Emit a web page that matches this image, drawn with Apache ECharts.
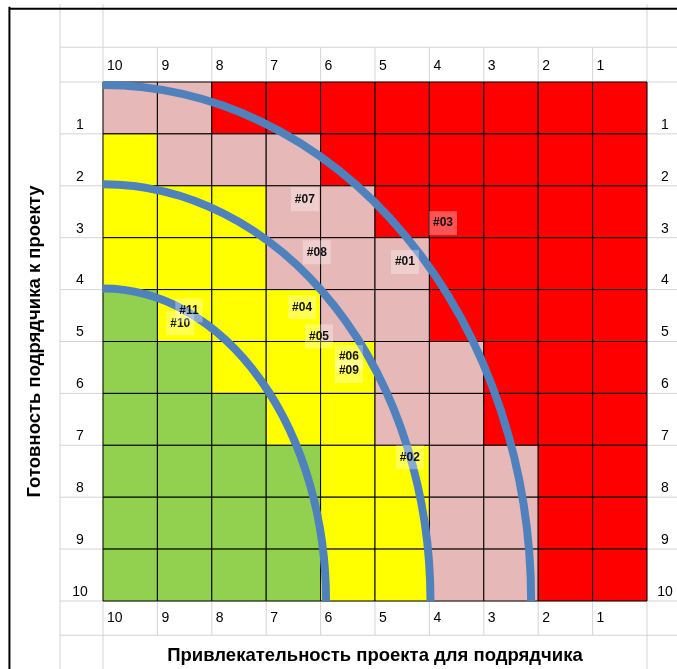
<!DOCTYPE html>
<html><head><meta charset="utf-8">
<script src="https://cdn.jsdelivr.net/npm/echarts@6/dist/echarts.min.js"></script>
<style>html,body{margin:0;padding:0;background:#fff}#c{width:677px;height:669px}</style>
</head><body><div id="c"></div>
<script>
// Column labels (left to right) and row labels (top to bottom)
const xTicks = [10, 9, 8, 7, 6, 5, 4, 3, 2, 1];
const yTicks = [1, 2, 3, 4, 5, 6, 7, 8, 9, 10];
// Zone of each cell, row by row (G green, Y yellow, P pink, R red), columns 10..1
const zoneRow1  = ['P','P','R','R','R','R','R','R','R','R'];
const zoneRow2  = ['Y','P','P','P','R','R','R','R','R','R'];
const zoneRow3  = ['Y','Y','Y','P','P','R','R','R','R','R'];
const zoneRow4  = ['Y','Y','Y','P','P','P','R','R','R','R'];
const zoneRow5  = ['G','Y','Y','Y','P','P','R','R','R','R'];
const zoneRow6  = ['G','G','Y','Y','Y','P','P','R','R','R'];
const zoneRow7  = ['G','G','G','Y','Y','P','P','R','R','R'];
const zoneRow8  = ['G','G','G','G','Y','Y','P','P','R','R'];
const zoneRow9  = ['G','G','G','G','Y','Y','P','P','R','R'];
const zoneRow10 = ['G','G','G','G','Y','Y','P','P','R','R'];
const zoneRows = [zoneRow1, zoneRow2, zoneRow3, zoneRow4, zoneRow5, zoneRow6, zoneRow7, zoneRow8, zoneRow9, zoneRow10];
// Projects: label, attractiveness (x), readiness (y)
const projectNames = ['#01','#02','#03','#04','#05','#06','#07','#08','#09','#10','#11'];
const projectX     = [4.45, 4.36, 3.75, 6.34, 6.03, 5.48, 6.29, 6.07, 5.48, 8.58, 8.42];
const projectY     = [3.47, 7.23, 2.72, 4.34, 4.90, 5.30, 2.26, 3.28, 5.57, 4.65, 4.40];
// Boundary arcs (radii in axis units, centred on corner 10/10)
const arcRx = [7.87, 6.02, 4.10];
const arcRy = [9.94, 8.03, 6.02];

const zoneColors = { G: '#92D050', Y: '#FFFF00', P: '#E6B8B7', R: '#FF0000' };
const FONT = '"Liberation Sans", Arial, sans-serif';

const cellData = [];
zoneRows.forEach((row, r) => row.forEach((z, c) => cellData.push([xTicks[c], yTicks[r], z])));
const pointData = projectNames.map((n, i) => [projectX[i], projectY[i], n]);
const arcData = arcRx.map((rx, i) => [rx, arcRy[i]]);

const chart = echarts.init(document.getElementById('c'), null, { renderer: 'canvas' });

const labelFmt = v => (v === 0 ? '' : String(v));
const axisCommon = {
  type: 'value', min: 0, max: 10, interval: 1, inverse: true,
  axisLine: { show: false }, axisTick: { show: false }, splitLine: { show: false }
};

chart.setOption({
  animation: false,
  backgroundColor: '#fff',
  grid: { left: 103, top: 82, width: 544, height: 519, containLabel: false, outerBoundsMode: 'none' },
  xAxis: [
    Object.assign({}, axisCommon, {
      position: 'top',
      axisLabel: { formatter: labelFmt, align: 'left', verticalAlign: 'middle', margin: 16,
        padding: [0, 0, 0, 4], fontSize: 14, color: '#000', fontFamily: FONT }
    }),
    Object.assign({}, axisCommon, {
      position: 'bottom',
      axisLabel: { formatter: labelFmt, align: 'left', verticalAlign: 'middle', margin: 17,
        padding: [0, 0, 0, 4], fontSize: 14, color: '#000', fontFamily: FONT },
      name: 'Привлекательность проекта для подрядчика', nameLocation: 'middle', nameGap: 45,
      nameTextStyle: { fontSize: 18.5, fontWeight: 'bold', color: '#000', fontFamily: FONT }
    })
  ],
  yAxis: [
    Object.assign({}, axisCommon, {
      position: 'left',
      axisLabel: { formatter: labelFmt, align: 'center', verticalAlign: 'bottom', margin: 23,
        padding: [0, 0, 2, 0], fontSize: 14, color: '#000', fontFamily: FONT },
      name: 'Готовность подрядчика к проекту', nameLocation: 'middle', nameGap: 59,
      nameTextStyle: { fontSize: 18.5, fontWeight: 'bold', color: '#000', fontFamily: FONT }
    }),
    Object.assign({}, axisCommon, {
      position: 'right',
      axisLabel: { formatter: labelFmt, align: 'center', verticalAlign: 'bottom', margin: 18,
        padding: [0, 0, 2, 0], fontSize: 14, color: '#000', fontFamily: FONT }
    })
  ],
  series: [
    { // spreadsheet gridlines and frame
      type: 'custom', clip: false, silent: true, z: 0,
      data: [[0, 0]],
      renderItem: (params, api) => {
        const children = [];
        const gray = { stroke: '#d4d4d4', lineWidth: 1 };
        const line = (a, b, style) => {
          const p = api.coord(a), q = api.coord(b);
          children.push({ type: 'line', shape: { x1: p[0], y1: p[1], x2: q[0], y2: q[1] }, style });
        };
        // horizontal sheet lines
        line([10.79, -0.67], [-0.6, -0.67], gray);
        for (let y = 0; y <= 10; y++) line([10.79, y], [-0.6, y], gray);
        line([10.79, 10.66], [-0.6, 10.66], gray);
        // vertical sheet lines
        for (let x = 1; x <= 9; x++) line([x, -0.67], [x, 10.66], gray);
        line([10.79, -1.5], [10.79, 11.5], gray);
        line([10, -1.5], [10, 11.5], gray);
        line([0, -1.5], [0, 11.5], gray);
        // frame
        const blk = { stroke: '#000', lineWidth: 2 };
        line([11.73, -1.41], [-0.6, -1.41], blk);
        line([11.72, -1.45], [11.72, 11.5], blk);
        return { type: 'group', children };
      }
    },
    { // zone cells
      type: 'custom', z: 1, silent: true,
      data: cellData,
      renderItem: (params, api) => {
        const p1 = api.coord([api.value(0), api.value(1) - 1]);
        const p2 = api.coord([api.value(0) - 1, api.value(1)]);
        const z = cellData[params.dataIndex][2];
        return {
          type: 'rect',
          shape: { x: Math.min(p1[0], p2[0]), y: Math.min(p1[1], p2[1]),
                   width: Math.abs(p2[0] - p1[0]), height: Math.abs(p2[1] - p1[1]) },
          style: { fill: zoneColors[z], stroke: '#000', lineWidth: 1 }
        };
      }
    },
    { // boundary arcs
      type: 'custom', z: 2, clip: false, silent: true,
      data: arcData,
      renderItem: (params, api) => {
        const rx = api.value(0), ry = api.value(1);
        const c = api.coord([10, 10]);
        const top = api.coord([10, 10 - ry]);
        const right = api.coord([10 - rx, 10]);
        const Rx = right[0] - c[0], Ry = c[1] - top[1];
        return {
          type: 'path',
          shape: { pathData: `M ${c[0]} ${top[1]} A ${Rx} ${Ry} 0 0 1 ${right[0]} ${c[1]}` },
          style: { fill: null, stroke: '#4F81BD', lineWidth: 8, lineCap: 'butt' }
        };
      }
    },
    { // project labels
      type: 'custom', z: 3, clip: false, silent: true,
      data: pointData,
      renderItem: (params, api) => {
        const p = api.coord([api.value(0), api.value(1)]);
        return {
          type: 'text', x: p[0], y: p[1],
          style: {
            text: pointData[params.dataIndex][2],
            font: 'bold 12px ' + FONT, fill: '#111',
            align: 'center', verticalAlign: 'middle', lineHeight: 14,
            backgroundColor: 'rgba(255,255,255,0.32)', padding: [5, 4, 5, 4]
          }
        };
      }
    }
  ]
});
</script></body></html>
